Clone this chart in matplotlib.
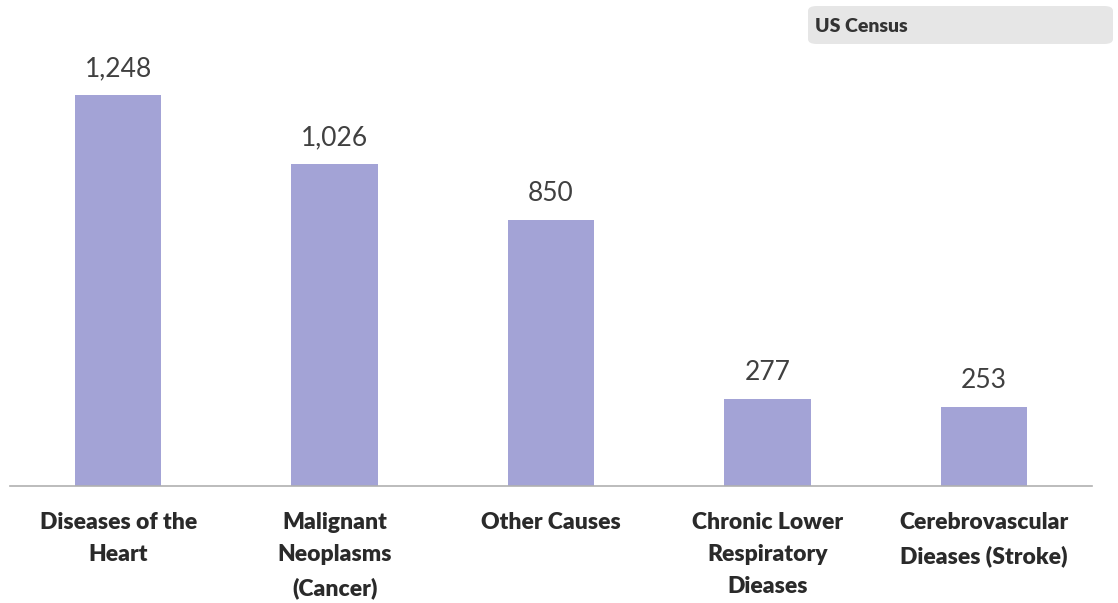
import matplotlib.pyplot as plt
from matplotlib.patches import FancyBboxPatch

# Данные
categories = [
    "Diseases of the\nHeart",
    "Malignant\nNeoplasms\n(Cancer)",
    "Other Causes",
    "Chronic Lower\nRespiratory\nDieases",
    "Cerebrovascular\nDieases (Stroke)",
]
deaths = [1248, 1026, 850, 277, 253]
value_labels = ["1,248", "1,026", "850", "277", "253"]
source_text = "US Census"

plt.rcParams['font.family'] = ['Lato', 'DejaVu Sans']

fig = plt.figure(figsize=(11.18, 6.03), dpi=100)
ax = fig.add_axes([10 / 1118, 117 / 603, 1082 / 1118, 446 / 603])

x = range(len(categories))
ax.bar(x, deaths, width=0.4, color='#a3a3d6')

for xi, v, lab in zip(x, deaths, value_labels):
    ax.annotate(lab, (xi, v), xytext=(0, 10), textcoords='offset points',
                ha='center', va='bottom', fontsize=19, color='#404040')

ax.set_xlim(-0.5, 4.5)
ax.set_ylim(0, 1423)
ax.set_yticks([])
ax.set_xticks(list(x))
ax.set_xticklabels(categories, fontsize=16.5, fontweight='heavy', color='#2a2a2a',
                   linespacing=1.65)
ax.tick_params(axis='x', length=0, pad=19)

for s in ['top', 'right', 'left']:
    ax.spines[s].set_visible(False)
ax.spines['bottom'].set_color('#b0b0b0')
ax.spines['bottom'].set_linewidth(1.2)

# Плашка источника
box = FancyBboxPatch((808 / 1118, 1 - 44 / 603), 305 / 1118, 38 / 603,
                     boxstyle='round,pad=0,rounding_size=0.008',
                     transform=fig.transFigure, facecolor='#e6e6e6',
                     edgecolor='none')
fig.patches.append(box)
fig.text(815 / 1118, 1 - 26 / 603, source_text, fontsize=14, fontweight='heavy',
         color='#333333', va='center', ha='left')

plt.savefig('out.png', dpi=100)
